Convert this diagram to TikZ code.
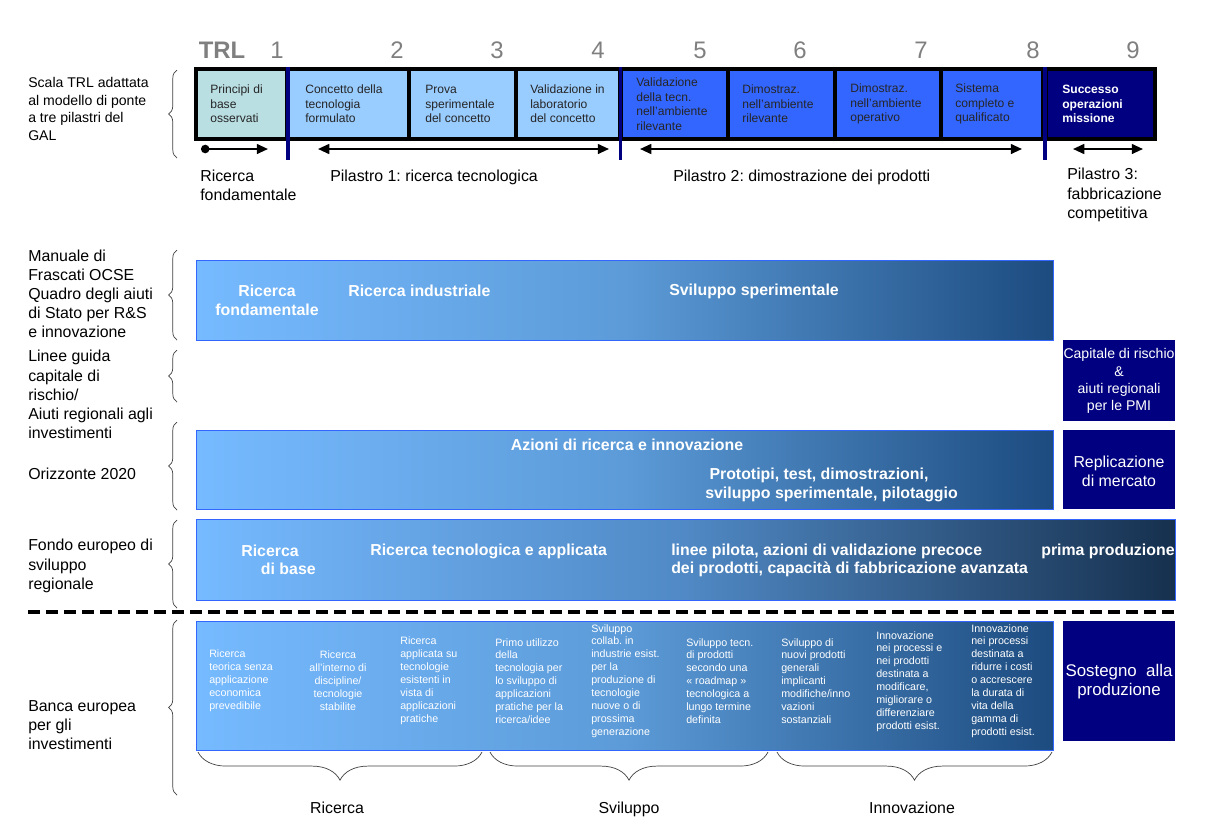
\documentclass[tikz,border=0pt]{standalone}
\usepackage{fontspec}
\setmainfont{Liberation Sans}
\frenchspacing
\usetikzlibrary{arrows.meta,decorations.pathreplacing}

\definecolor{trlgray}{HTML}{7F7F7F}
\definecolor{celcyan}{HTML}{BADFE3}
\definecolor{cellight}{HTML}{99CCFF}
\definecolor{celblue}{HTML}{3366FF}
\definecolor{navy}{HTML}{000080}
\definecolor{bandlight}{HTML}{76BAFF}
\definecolor{bandmid}{HTML}{5C9BD8}
\definecolor{banddark}{HTML}{1C4B7F}
\definecolor{bandmidb}{HTML}{5089C5}
\definecolor{bandnight}{HTML}{16304E}
\definecolor{bracegray}{HTML}{404040}

\tikzset{
  trlnum/.style={text=trlgray, inner sep=0pt, font=\fontsize{17}{20}\selectfont},
  celltxt/.style={anchor=west, align=left, inner sep=0pt, text=black!85, font=\fontsize{8.6}{10.3}\selectfont},
  sidetxt/.style={anchor=west, align=left, inner sep=0pt, font=\fontsize{11.3}{13.6}\selectfont},
  bandtxt/.style={inner sep=0pt, text=white, font=\bfseries\fontsize{11.3}{13.2}\selectfont},
  smalltxt/.style={anchor=west, align=left, inner sep=0pt, text=white, font=\fontsize{7.6}{9.2}\selectfont},
  navytxt/.style={inner sep=0pt, text=white, align=center, font=\fontsize{11.3}{13.5}\selectfont},
  band/.style={draw=celblue, line width=0.7pt, left color=bandlight, right color=banddark, middle color=bandmid},
  bandwide/.style={draw=celblue, line width=0.7pt, left color=bandlight, right color=bandnight, middle color=bandmidb},
  lbrace/.style={decorate, decoration={brace, amplitude=6pt}, draw=bracegray, line width=0.5pt},
  bbrace/.style={decorate, decoration={brace, amplitude=20pt}, draw=bracegray, line width=0.5pt},
  pillar/.style={line width=1.4pt, {Triangle[length=8pt,width=7pt]}-{Triangle[length=8pt,width=7pt]}},
  divider/.style={navy, line width=2.2pt},
}

\begin{document}
\begin{tikzpicture}[x=0.025cm, y=-0.025cm]
\useasboundingbox (0,0) rectangle (1209,838);

% TRL numbers
\node[trlnum, font=\bfseries\fontsize{17}{20}\selectfont] (trl) at (222,50) {TRL};
\node[trlnum] (n1) at (277,50) {1};
\node[trlnum] (n2) at (397,50) {2};
\node[trlnum] (n3) at (497,50) {3};
\node[trlnum] (n4) at (598,50) {4};
\node[trlnum] (n5) at (700,50) {5};
\node[trlnum] (n6) at (800,50) {6};
\node[trlnum] (n7) at (921,50) {7};
\node[trlnum] (n8) at (1033,50) {8};
\node[trlnum] (n9) at (1133,50) {9};

% TRL scale frame and cells
\fill[black] (194,67) rectangle (1157,141);
\fill[celcyan] (198,71) rectangle (285,137);
\fill[cellight] (290,71) rectangle (407,137);
\fill[cellight] (411,71) rectangle (514,137);
\fill[cellight] (518,71) rectangle (618,137);
\fill[celblue] (623,71) rectangle (726,137);
\fill[celblue] (730,71) rectangle (833,137);
\fill[celblue] (837,71) rectangle (939,137);
\fill[celblue] (943,71) rectangle (1041,137);
\fill[navy] (1048,71) rectangle (1153,137);

% pillar dividers
\draw[divider] (288,67) -- (288,160);
\draw[divider] (620.5,67) -- (620.5,160);
\draw[divider] (1045,67) -- (1045,160);

% cell texts
\node[celltxt] (cell1) at (210,104) {Principi di\\base\\osservati};
\node[celltxt] (cell2) at (305,104) {Concetto della\\tecnologia\\formulato};
\node[celltxt] (cell3) at (425,104) {Prova\\sperimentale\\del concetto};
\node[celltxt] (cell4) at (530,104) {Validazione in\\laboratorio\\del concetto};
\node[celltxt] (cell5) at (636,104) {Validazione\\della tecn.\\nell'ambiente\\rilevante};
\node[celltxt] (cell6) at (742,104) {Dimostraz.\\nell'ambiente\\rilevante};
\node[celltxt] (cell7) at (850,104) {Dimostraz.\\nell'ambiente\\operativo};
\node[celltxt] (cell8) at (955,104) {Sistema\\completo e\\qualificato};
\node[celltxt, text=white, font=\bfseries\fontsize{8.6}{10.3}\selectfont] (cell9) at (1062,104) {Successo\\operazioni\\missione};

% pillar arrows
\coordinate (p0s) at (201,149);
\coordinate (p0e) at (268,149);
\coordinate (p1s) at (318,149);
\coordinate (p1e) at (609,149);
\coordinate (p2s) at (640,149);
\coordinate (p2e) at (1022,149);
\coordinate (p3s) at (1073,149);
\coordinate (p3e) at (1143,149);
\draw[line width=1.4pt, {Circle[length=6pt]}-{Triangle[length=8pt,width=7pt]}] (p0s) -- (p0e);
\draw[pillar] (p1s) -- (p1e);
\draw[pillar] (p2s) -- (p2e);
\draw[pillar] (p3s) -- (p3e);

% pillar labels
\node[sidetxt] (pil0) at (200,185.5) {Ricerca\\fondamentale};
\node[sidetxt, anchor=base west] (pil1) at (330,181) {Pilastro 1: ricerca tecnologica};
\node[sidetxt, anchor=base west] (pil2) at (673,181) {Pilastro 2: dimostrazione dei prodotti};
\node[sidetxt] (pil3) at (1067,195) {Pilastro 3:\\fabbricazione\\competitiva};

% left labels
\node[sidetxt, font=\fontsize{10}{12.7}\selectfont] (lscala) at (28,109) {Scala TRL adattata\\al modello di ponte\\a tre pilastri del\\GAL};
\node[sidetxt] (lfrasc) at (28,294) {Manuale di\\Frascati OCSE\\Quadro degli aiuti\\di Stato per R\&S\\e innovazione};
\node[sidetxt] (lguide) at (28,394.5) {Linee guida\\capitale di\\rischio/\\Aiuti regionali agli\\investimenti};
\node[sidetxt] (lh2020) at (28,474) {Orizzonte 2020};
\node[sidetxt] (lfesr) at (28,566) {Fondo europeo di\\sviluppo\\regionale};
\node[sidetxt] (lbei) at (28,725) {Banca europea\\per gli\\investimenti};

% left braces
\draw[lbrace] (177,158) -- (177,70);
\draw[lbrace] (177,340) -- (177,250);
\draw[lbrace] (177,402) -- (177,350);
\draw[lbrace] (177,510) -- (177,422);
\draw[lbrace] (177,608) -- (177,520);
\draw[lbrace] (177,795) -- (177,620);

% Frascati band
\draw[band] (196,260) rectangle (1053,340);
\node[bandtxt, align=center] (bfond) at (267,300.5) {Ricerca\\fondamentale};
\node[bandtxt, anchor=west] (bind) at (348,291) {Ricerca industriale};
\node[bandtxt, anchor=west] (bsper) at (669,291) {Sviluppo sperimentale};

% risk capital box
\fill[navy] (1063,340) rectangle (1175,421);
\node[navytxt, font=\fontsize{10}{12.3}\selectfont] (ncap) at (1119,381) {Capitale di rischio\\\&\\aiuti regionali\\per le PMI};

% Horizon 2020 band
\draw[band] (196,430) rectangle (1053,509);
\node[bandtxt] (baz) at (627,445) {Azioni di ricerca e innovazione};
\node[bandtxt, anchor=west, align=left] (bproto) at (705,485) {\hspace*{3pt}Prototipi, test, dimostrazioni,\\sviluppo sperimentale, pilotaggio};
\fill[navy] (1063,430) rectangle (1175,509);
\node[navytxt] (nrepl) at (1119,471.5) {Replicazione\\di mercato};

% ERDF band
\draw[bandwide] (196,519) rectangle (1175,600);
\node[bandtxt, anchor=west, align=left] (bbase) at (241,560) {Ricerca\\\hspace*{14pt}di base};
\node[bandtxt, anchor=west] (btec) at (370,551) {Ricerca tecnologica e applicata};
\node[bandtxt, anchor=west, align=left] (bpilot) at (671,560.5) {linee pilota, azioni di validazione precoce\\dei prodotti, capacità di fabbricazione avanzata};
\node[bandtxt, anchor=west] (bprima) at (1041,551) {prima produzione};

% separator
\draw[line width=2.2pt, dash pattern=on 8.5pt off 4.3pt] (28,612) -- (1175,612);

% EIB band
\draw[band] (196,621) rectangle (1053,750);
\node[smalltxt] (e1) at (209,681) {Ricerca\\teorica senza\\applicazione\\economica\\prevedibile};
\node[smalltxt, anchor=center, align=center] (e2) at (338,681) {Ricerca\\all'interno di\\discipline/\\tecnologie\\stabilite};
\node[smalltxt] (e3) at (400,681) {Ricerca\\applicata su\\tecnologie\\esistenti in\\vista di\\applicazioni\\pratiche};
\node[smalltxt] (e4) at (495,681) {Primo utilizzo\\della\\tecnologia per\\lo sviluppo di\\applicazioni\\pratiche per la\\ricerca/idee};
\node[smalltxt] (e5) at (591,681) {Sviluppo\\collab. in\\industrie esist.\\per la\\produzione di\\tecnologie\\nuove o di\\prossima\\generazione};
\node[smalltxt] (e6) at (686,681) {Sviluppo tecn.\\di prodotti\\secondo una\\« roadmap »\\tecnologica a\\lungo termine\\definita};
\node[smalltxt] (e7) at (781,681) {Sviluppo di\\nuovi prodotti\\generali\\implicanti\\modifiche/inno\\vazioni\\sostanziali};
\node[smalltxt] (e8) at (876,681.5) {Innovazione\\nei processi e\\nei prodotti\\destinata a\\modificare,\\migliorare o\\differenziare\\prodotti esist.};
\node[smalltxt] (e9) at (971,681) {Innovazione\\nei processi\\destinata a\\ridurre i costi\\o accrescere\\la durata di\\vita della\\gamma di\\prodotti esist.};
\fill[navy] (1063,621) rectangle (1175,741);
\node[navytxt, font=\fontsize{12}{13.5}\selectfont] (nsost) at (1119,681.5) {Sostegno\ \ alla\\produzione};

% bottom braces
\draw[bbrace] (482,752) -- (198,752);
\draw[bbrace] (768,752) -- (490,752);
\draw[bbrace] (1052,752) -- (777,752);
\node[sidetxt, anchor=base] (sric) at (337,813) {Ricerca};
\node[sidetxt, anchor=base] (ssvil) at (629,813) {Sviluppo};
\node[sidetxt, anchor=base] (sinno) at (912,813) {Innovazione};

\end{tikzpicture}
\end{document}
